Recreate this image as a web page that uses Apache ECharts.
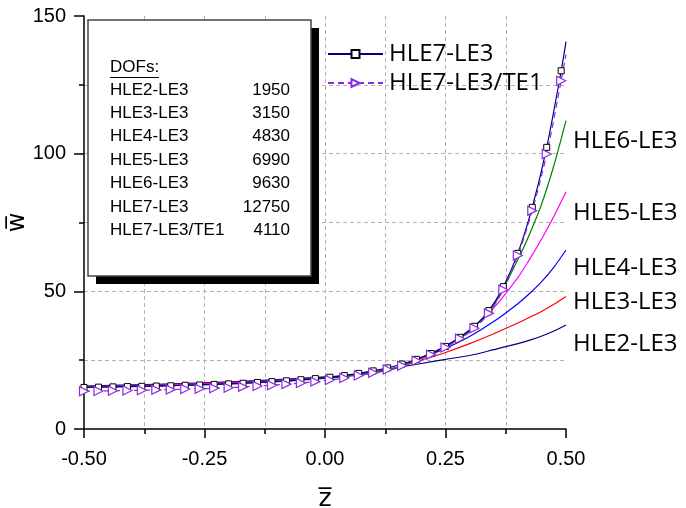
<!DOCTYPE html>
<html>
<head>
<meta charset="utf-8">
<script src="https://cdn.jsdelivr.net/npm/echarts@6.0.0/dist/echarts.min.js"></script>
<style>
    html, body { margin: 0; padding: 0; background: #fff; }
    #chart { width: 686px; height: 508px; }
</style>
</head>
<body>
<div id="chart"></div>
<script>
    // z positions for the plain curves
    const zCurve = [-0.5, -0.4, -0.3, -0.2, -0.1, 0, 0.05, 0.1, 0.15, 0.2, 0.25, 0.3, 0.35, 0.4, 0.425, 0.45, 0.475, 0.5]
    const hle2 = [15.6, 16.0, 16.5, 17.1, 17.9, 18.9, 19.6, 20.7, 22.3, 23.8, 25.3, 26.7, 28.8, 31.0, 32.3, 33.8, 35.6, 37.8]
    const hle3 = [15.4, 15.8, 16.3, 16.9, 17.7, 18.7, 19.5, 20.6, 22.3, 25.0, 27.8, 31.0, 34.6, 38.5, 40.6, 42.8, 45.3, 48.1]
    const hle4 = [15.3, 15.7, 16.2, 16.8, 17.6, 18.6, 19.4, 20.5, 22.4, 25.8, 29.3, 33.6, 39.0, 45.5, 49.3, 53.6, 58.8, 65.0]
    const hle5 = [15.2, 15.6, 16.1, 16.7, 17.5, 18.5, 19.3, 20.4, 22.3, 25.9, 30.2, 36.0, 44.0, 55.0, 61.8, 69.2, 77.3, 86.2]
    const hle6 = [15.1, 15.4, 15.8, 16.4, 17.2, 18.4, 19.2, 20.3, 22.2, 26.0, 29.9, 35.6, 45.0, 61.5, 71.0, 82.0, 95.8, 112.0]

    // z positions for the marked curves (last one is the line end, no marker)
    const zMark = [-0.50, -0.47, -0.44, -0.41, -0.38, -0.35, -0.32, -0.29, -0.26, -0.23, -0.20, -0.17, -0.14, -0.11, -0.08, -0.05, -0.02, 0.01, 0.04, 0.07, 0.10, 0.13, 0.16, 0.19, 0.22, 0.25, 0.28, 0.31, 0.34, 0.37, 0.40, 0.43, 0.46, 0.49, 0.50]
    const hle7 = [15.1, 15.2, 15.3, 15.4, 15.5, 15.6, 15.7, 15.9, 16.0, 16.2, 16.4, 16.6, 16.9, 17.2, 17.5, 17.9, 18.3, 18.8, 19.4, 20.2, 21.1, 22.2, 23.6, 25.3, 27.4, 30.0, 33.3, 37.3, 43.0, 51.7, 63.8, 80.5, 102.3, 130.1, 140.7]
    const hle7te1 = [13.7, 13.8, 13.9, 14.0, 14.1, 14.2, 14.3, 14.5, 14.6, 14.8, 15.0, 15.3, 15.6, 15.9, 16.3, 16.7, 17.2, 17.8, 18.5, 19.4, 20.4, 21.6, 23.0, 24.8, 27.0, 29.6, 32.8, 36.6, 42.0, 50.6, 63.0, 79.3, 99.9, 126.5, 136.0]

    const dofNames = ['HLE2-LE3', 'HLE3-LE3', 'HLE4-LE3', 'HLE5-LE3', 'HLE6-LE3', 'HLE7-LE3', 'HLE7-LE3/TE1']
    const dofValues = [1950, 3150, 4830, 6990, 9630, 12750, 4110]

    const labelFont = 'Open Sans'
    const axisFont = 'Liberation Sans'

    function pairs(xs, ys) {
        return xs.map((x, i) => [x, ys[i]])
    }

    function markPairs(xs, ys) {
        return xs.map((x, i) => {
            if (x === 0.5) return {value: [x, ys[i]], symbol: 'none'}
            return [x, ys[i]]
        })
    }

    function plainCurve(name, data, color, dy) {
        return {
            name: name,
            type: 'line',
            data: pairs(zCurve, data),
            smooth: 0.3,
            symbol: 'none',
            lineStyle: {color: color, width: 1.2},
            itemStyle: {color: color},
            endLabel: {
                show: true,
                formatter: '{a}',
                distance: 7,
                offset: [0, dy],
                fontFamily: labelFont,
                fontSize: 24,
                color: '#000'
            }
        }
    }

    const dash = {type: [4, 3], color: '#b4b4b4', width: 1}

    const graphics = [
        {type: 'rect', z: 10, shape: {x: 96, y: 28, width: 223, height: 256}, style: {fill: '#000'}},
        {type: 'rect', z: 10, shape: {x: 88, y: 20, width: 223, height: 256}, style: {fill: '#fff', stroke: '#444', lineWidth: 1.5}},
        {type: 'text', z: 11, left: 110, top: 59, style: {text: 'DOFs:', font: '17px "Liberation Sans"', fill: '#000'}},
        {type: 'line', z: 11, shape: {x1: 110, y1: 77.5, x2: 159, y2: 77.5}, style: {stroke: '#000', lineWidth: 1}}
    ]
    dofNames.forEach((n, i) => {
        const y = 90 + i * 23.4
        graphics.push({type: 'text', z: 11, x: 110, y: y, style: {text: n, font: '17px "Liberation Sans"', fill: '#000', verticalAlign: 'middle'}})
        graphics.push({type: 'text', z: 11, x: 290, y: y, style: {text: String(dofValues[i]), font: '17px "Liberation Sans"', fill: '#000', align: 'right', verticalAlign: 'middle'}})
    })

    let myChart = echarts.init(document.getElementById('chart'))
    myChart.setOption({
        animation: false,
        backgroundColor: '#fff',
        grid: {left: 84, right: 120, top: 16, bottom: 79, containLabel: false, outerBoundsMode: 'none'},
        legend: {
            data: ['HLE7-LE3', 'HLE7-LE3/TE1'],
            orient: 'vertical',
            left: 322,
            top: 37,
            itemWidth: 55,
            itemHeight: 10,
            itemGap: 5,
            textStyle: {fontFamily: labelFont, fontSize: 24, color: '#000', padding: [0, 0, 0, 1]}
        },
        xAxis: {
            type: 'value',
            min: -0.5,
            max: 0.5,
            interval: 0.25,
            name: 'z\u0305',
            nameLocation: 'middle',
            nameGap: 58,
            nameMoveOverlap: false,
            nameTextStyle: {fontFamily: 'DejaVu Sans', fontSize: 25, color: '#000'},
            axisLine: {onZero: false, lineStyle: {color: '#000', width: 1.5}},
            axisTick: {length: 9, lineStyle: {color: '#000', width: 1.5}},
            minorTick: {show: true, splitNumber: 2, length: 5, lineStyle: {color: '#000', width: 1.5}},
            splitLine: {show: true, showMinLine: false, showMaxLine: false, lineStyle: dash},
            minorSplitLine: {show: true, lineStyle: dash},
            axisLabel: {
                formatter: v => v.toFixed(2),
                margin: 20,
                fontFamily: axisFont,
                fontSize: 20,
                color: '#000'
            }
        },
        yAxis: {
            type: 'value',
            min: 0,
            max: 150,
            interval: 50,
            name: 'w\u0305',
            nameLocation: 'middle',
            nameGap: 54,
            nameRotate: 90,
            nameMoveOverlap: false,
            nameTextStyle: {fontFamily: 'DejaVu Sans', fontSize: 24, color: '#000'},
            axisLine: {show: true, onZero: false, lineStyle: {color: '#000', width: 1.5}},
            axisTick: {show: true, length: 10, lineStyle: {color: '#000', width: 1.5}},
            minorTick: {show: true, splitNumber: 2, length: 5, lineStyle: {color: '#000', width: 1.5}},
            splitLine: {show: true, showMinLine: false, showMaxLine: false, lineStyle: dash},
            minorSplitLine: {show: true, lineStyle: dash},
            axisLabel: {margin: 18, fontFamily: axisFont, fontSize: 20, color: '#000'}
        },
        graphic: graphics,
        series: [
            plainCurve('HLE2-LE3', hle2, '#000080', 19),
            plainCurve('HLE3-LE3', hle3, '#ff0000', 6),
            plainCurve('HLE4-LE3', hle4, '#0000ff', 18),
            plainCurve('HLE5-LE3', hle5, '#ff00ff', 21),
            plainCurve('HLE6-LE3', hle6, '#008000', 21),
            {
                name: 'HLE7-LE3',
                type: 'line',
                data: markPairs(zMark, hle7),
                smooth: 0.3,
                symbol: 'rect',
                symbolSize: 6,
                showAllSymbol: true,
                lineStyle: {color: '#000080', width: 1.2},
                itemStyle: {color: '#fff', borderColor: '#000', borderWidth: 1}
            },
            {
                name: 'HLE7-LE3/TE1',
                type: 'line',
                data: markPairs(zMark, hle7te1),
                smooth: 0.3,
                symbol: 'triangle',
                symbolRotate: -90,
                symbolSize: 9,
                showAllSymbol: true,
                lineStyle: {color: '#8a2be2', width: 1.2, type: [6, 4]},
                itemStyle: {color: '#fff', borderColor: '#8a2be2', borderWidth: 1.2}
            }
        ]
    })
</script>
</body>
</html>
